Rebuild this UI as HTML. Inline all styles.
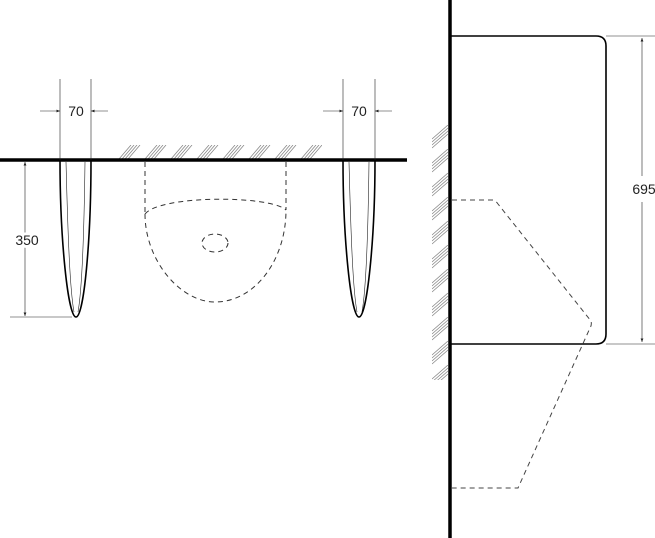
<!DOCTYPE html>
<html><head><style>body{margin:0;background:#fff}svg{display:block}text{font-family:"Liberation Sans",sans-serif;font-size:14px;fill:#222}</style></head>
<body>
<svg width="655" height="538" viewBox="0 0 655 538" xmlns="http://www.w3.org/2000/svg">
<defs>
<marker id="a" viewBox="0 0 10 10" refX="10" refY="5" markerWidth="6" markerHeight="6" orient="auto-start-reverse"><path d="M0,1 L10,5 L0,9z" fill="#222"/></marker>
<pattern id="h" x="117" y="145" width="26" height="14" patternUnits="userSpaceOnUse"><g stroke="#888" stroke-width="0.8"><path d="M2,14 L14,0"/><path d="M5,14 L17,0"/><path d="M8,14 L20,0"/><path d="M11,14 L23,0"/></g></pattern>
<pattern id="v" x="432" y="125" width="16" height="24" patternUnits="userSpaceOnUse"><g stroke="#888" stroke-width="0.8"><path d="M0,14 L16,0"/><path d="M0,17 L16,3"/><path d="M0,20 L16,6"/><path d="M0,23 L16,9"/></g></pattern>
</defs>
<rect x="117" y="145" width="205" height="14" fill="url(#h)"/>
<line x1="0" y1="160" x2="407" y2="160" stroke="#000" stroke-width="3.5"/>
<g stroke="#222" stroke-width="0.6" fill="none">
<line x1="60" y1="79" x2="60" y2="160"/><line x1="91" y1="79" x2="91" y2="160"/>
<line x1="40" y1="111" x2="60" y2="111" marker-end="url(#a)"/><line x1="108" y1="111" x2="91" y2="111" marker-end="url(#a)"/>
<line x1="343" y1="79" x2="343" y2="160"/><line x1="375" y1="79" x2="375" y2="160"/>
<line x1="323" y1="111" x2="343" y2="111" marker-end="url(#a)"/><line x1="392" y1="111" x2="375" y2="111" marker-end="url(#a)"/>
<line x1="25" y1="162" x2="25" y2="316" marker-start="url(#a)" marker-end="url(#a)"/>
<line x1="10" y1="317" x2="72" y2="317"/>
<path d="M66,162 C68,240 70,290 74,312"/><path d="M85,162 C84,240 82,290 78,312"/>
<path d="M349,162 C351,240 353,290 357,312"/><path d="M369,162 C368,240 366,290 362,312"/>
</g>
<g stroke="#000" stroke-width="1.6" fill="none">
<path d="M60,160 C60,240 68,317 76,317 C84,317 91,240 91,160"/>
<path d="M343,160 C343,240 351,317 359,317 C367,317 375,240 375,160"/>
</g>
<text x="76" y="116" text-anchor="middle">70</text>
<text x="359" y="116" text-anchor="middle">70</text>
<text x="27" y="245" text-anchor="middle" style="fill:#222;paint-order:stroke;stroke:#fff;stroke-width:6px">350</text>
<g stroke="#333" stroke-width="1" fill="none" stroke-dasharray="5,4">
<line x1="145" y1="162" x2="145" y2="215"/><line x1="286" y1="162" x2="286" y2="210"/>
<path d="M145,214 C160,195 270,195 286,210"/>
<path d="M145,214 C145,260 180,302 215,302 C255,302 286,260 286,210"/>
<ellipse cx="215" cy="243" rx="13" ry="9"/>
</g>
<rect x="432" y="125" width="16" height="255" fill="url(#v)"/>
<line x1="450" y1="0" x2="450" y2="538" stroke="#000" stroke-width="3.5"/>
<path d="M450,36 L596,36 Q606,36 606,46 L606,334 Q606,344 596,344 L450,344" stroke="#000" stroke-width="1.6" fill="none"/>
<g stroke="#222" stroke-width="0.6">
<line x1="606" y1="36" x2="655" y2="36"/><line x1="606" y1="344" x2="655" y2="344"/>
<line x1="642" y1="38" x2="642" y2="176" marker-start="url(#a)"/>
<line x1="642" y1="202" x2="642" y2="342" marker-end="url(#a)"/>
</g>
<text x="644" y="194" text-anchor="middle">695</text>
<path d="M452,200 L493,200 Q496,201 498,204 L591,321 Q592,325 590,328 L518,488 L452,488" stroke="#444" stroke-width="1" fill="none" stroke-dasharray="5,4"/>
</svg>
</body></html>
